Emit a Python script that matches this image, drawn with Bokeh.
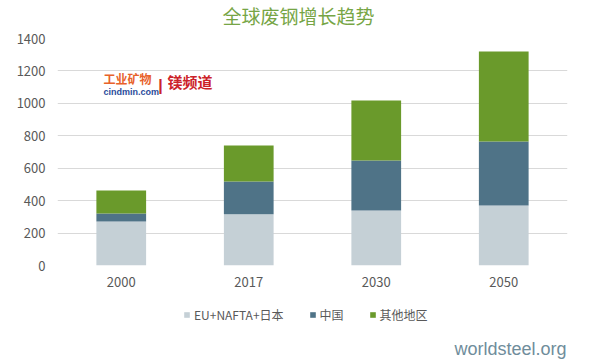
from bokeh.plotting import figure
from bokeh.models import (FactorRange, Range1d, FixedTicker, Legend, LegendItem, Label)
from bokeh.layouts import column
from bokeh.embed import file_html
from bokeh.resources import INLINE

# ---- data ----
years = ["2000", "2017", "2030", "2050"]
series = ["EU+NAFTA+日本", "中国", "其他地区"]
eu_nafta_jp = [271, 316, 339, 370]
china = [49, 202, 309, 395]
others = [143, 222, 370, 555]
y_ticks = [0, 200, 400, 600, 800, 1000, 1200, 1400]
colors = ["#c5d0d6", "#4f7387", "#6a9a2b"]

title_text = "全球废钢增长趋势"
source_text = "worldsteel.org"

CJK = "Noto Sans CJK SC"
TXT = "#595959"

data = {"years": years, series[0]: eu_nafta_jp, series[1]: china, series[2]: others}


def strip(height, x_range, y_range):
    f = figure(width=594, height=height, output_backend="svg", toolbar_location=None,
               x_axis_type=None, y_axis_type=None, x_range=x_range, y_range=y_range,
               min_border=0, min_border_left=0, min_border_right=0,
               min_border_top=0, min_border_bottom=0)
    f.grid.visible = False
    f.outline_line_color = None
    f.background_fill_color = "white"
    f.border_fill_color = "white"
    return f


# ---------- header strip: title ----------
t = strip(30, Range1d(0, 1), Range1d(0, 1))
t.add_layout(Label(x=241, y=15.5, x_units="screen", y_units="screen", text=title_text,
                   text_font=CJK, text_font_size="19px", text_color="#76a545",
                   text_align="center", text_baseline="middle"))

# ---------- main chart ----------
xr = FactorRange(*years, range_padding=0)
p = figure(width=594, height=265, output_backend="svg", toolbar_location=None,
           x_range=xr, y_range=Range1d(0, 1400),
           min_border_left=57, min_border_right=27, min_border_top=8, min_border_bottom=30)
p.outline_line_color = None
p.background_fill_color = "white"
p.border_fill_color = "white"

rs = p.vbar_stack(series, x="years", width=0.39, color=colors, line_color=None, source=data)

p.yaxis.ticker = FixedTicker(ticks=y_ticks)
p.yaxis.axis_line_color = None
p.yaxis.major_tick_line_color = None
p.yaxis.minor_tick_line_color = None
p.yaxis.major_tick_out = 0
p.yaxis.major_tick_in = 0
p.yaxis.major_label_standoff = 12
p.yaxis.major_label_text_font = CJK
p.yaxis.major_label_text_font_size = "13px"
p.yaxis.major_label_text_color = TXT

p.xaxis.axis_line_color = None
p.xaxis.major_tick_line_color = None
p.xaxis.minor_tick_line_color = None
p.xaxis.major_tick_out = 0
p.xaxis.major_tick_in = 0
p.xaxis.major_label_standoff = 11
p.xaxis.major_label_text_font = CJK
p.xaxis.major_label_text_font_size = "13px"
p.xaxis.major_label_text_color = TXT

p.xgrid.grid_line_color = None
p.ygrid.grid_line_color = "#d9d9d9"
p.ygrid.grid_line_width = 1

# watermark logo
p.add_layout(Label(x=46, y=187, x_units="screen", y_units="screen", text="工业矿物",
                   text_font=CJK, text_font_size="12px", text_font_style="bold",
                   text_color="#e8622a", text_align="left", text_baseline="middle"))
p.add_layout(Label(x=46, y=174, x_units="screen", y_units="screen", text="cindmin.com",
                   text_font="Liberation Sans", text_font_size="9px", text_font_style="bold",
                   text_color="#2b4b9b", text_align="left", text_baseline="middle"))
p.add_layout(Label(x=103, y=180, x_units="screen", y_units="screen", text="|",
                   text_font="Liberation Sans", text_font_size="16px", text_font_style="bold",
                   text_color="#cc2229", text_align="center", text_baseline="middle"))
p.add_layout(Label(x=110, y=184, x_units="screen", y_units="screen", text="镁频道",
                   text_font=CJK, text_font_size="15px", text_font_style="bold",
                   text_color="#cc2229", text_align="left", text_baseline="middle"))

# ---------- bottom strip: legend + source ----------
q = strip(66, xr, Range1d(-200, -100))
# legend proxies: same data, zero width and outside this strip's visible y-range
proxies = q.vbar_stack(series, x="years", width=0, color=colors, line_color=None,
                       source=data)
legend = Legend(items=[LegendItem(label=n, renderers=[r]) for n, r in zip(series, proxies)],
                location=(126, 38), orientation="horizontal",
                padding=0, margin=0, spacing=25, border_line_alpha=0, background_fill_alpha=0,
                glyph_width=7, glyph_height=7, label_standoff=4, label_height=14,
                label_text_font=CJK, label_text_font_size="12px", label_text_color=TXT)
q.add_layout(legend, "center")

q.add_layout(Label(x=509, y=13, x_units="screen", y_units="screen", text=source_text,
                   text_font="Liberation Sans", text_font_size="18px",
                   text_color="#6f8d9b", text_align="right", text_baseline="middle"))

layout = column(t, p, q, spacing=0)
open("out.html", "w").write(file_html(layout, INLINE))
